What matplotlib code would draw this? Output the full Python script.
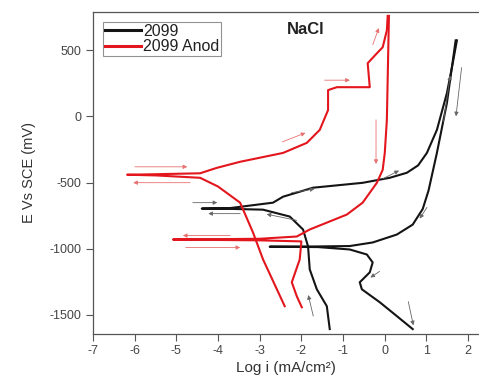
import numpy as np
import matplotlib.pyplot as plt

plt.rcParams['font.family'] = ['Liberation Sans', 'DejaVu Sans']
plt.rcParams['axes.unicode_minus'] = False

# 2099 bare alloy: forward scan (cathodic -> anodic) and reverse scan
bare_fwd_logi = [-1.32, -1.39, -1.63, -1.80, -1.84, -1.96, -2.28, -2.92, -3.71, -4.39,
                 -3.71, -2.68, -2.44, -1.72, -0.53, 0.12, 0.53, 0.80, 1.01, 1.25,
                 1.49, 1.63, 1.73]
bare_fwd_E = [-1608, -1435, -1307, -1156, -983, -855, -757, -705, -699, -697,
              -693, -652, -607, -539, -502, -464, -426, -370, -276, -102,
              176, 402, 575]
bare_rev_logi = [1.70, 1.49, 1.25, 1.05, 0.91, 0.67, 0.29, -0.29, -0.84, -1.6, -2.76,
                 -1.6, -0.84, -0.43, -0.29, -0.36, -0.60, -0.55, -0.12, 0.29, 0.67]
bare_rev_E = [575, 101, -276, -560, -700, -818, -893, -953, -980, -983, -985,
              -988, -1006, -1044, -1104, -1179, -1254, -1307, -1405, -1510, -1608]

# 2099 anodised: forward scan and reverse scan
anod_fwd_logi = [-2.40, -2.92, -3.16, -3.47, -4.0, -4.43, -5.5, -6.18, -5.5, -4.43,
                 -4.03, -3.47, -2.44, -1.87, -1.56, -1.36, -1.36, -1.15, -0.36, -0.41,
                 -0.19, -0.05, 0.05, 0.07]
anod_fwd_E = [-1435, -1081, -878, -652, -530, -464, -446, -441, -437, -430,
              -389, -343, -276, -200, -102, 48, 199, 221, 221, 402,
              477, 523, 651, 760]
anod_rev_logi = [0.10, 0.05, 0.0, -0.05, -0.19, -0.53, -0.91, -1.80, -2.11, -3.0,
                 -5.08, -3.0, -2.0, -2.04, -2.23, -2.11, -1.99]
anod_rev_E = [760, -27, -276, -404, -502, -652, -742, -855, -908, -925,
              -931, -937, -945, -1081, -1254, -1360, -1443]

BLACK = '#141414'
RED = '#e3161d'

fig = plt.figure(figsize=(4.79, 3.85), dpi=100)
ax = fig.add_axes([0.194, 0.1325, 0.806, 0.8365])

ax.plot(bare_fwd_logi, bare_fwd_E, color=BLACK, lw=1.5, label='2099')
ax.plot(bare_rev_logi, bare_rev_E, color=BLACK, lw=1.5)
ax.plot(anod_fwd_logi, anod_fwd_E, color=RED, lw=1.5, label='2099 Anod')
ax.plot(anod_rev_logi, anod_rev_E, color=RED, lw=1.5)

# thin guide arrows showing scan direction
red_arrows = [(-6.06, -381, -4.67, -381), (-4.60, -501, -6.10, -501),
              (-3.64, -901, -4.91, -901), (-4.84, -991, -3.40, -991),
              (-2.52, -200, -1.84, -117), (-1.51, 274, -0.77, 274),
              (-0.21, -5, -0.21, -381), (-0.31, 523, -0.12, 688)]
black_arrows = [(-4.67, -652, -3.95, -652), (-3.40, -735, -4.30, -735),
                (-2.30, -580, -1.62, -545), (-2.05, -790, -2.90, -735),
                (-0.10, -480, 0.40, -400), (1.40, -60, 1.58, 330),
                (1.85, 390, 1.70, -20), (1.05, -670, 0.80, -790),
                (-0.07, -1160, -0.40, -1230), (0.55, -1380, 0.70, -1600),
                (-1.70, -1530, -1.85, -1330)]
for x0, y0, x1, y1 in red_arrows:
    ax.annotate('', xy=(x1, y1), xytext=(x0, y0),
                arrowprops=dict(arrowstyle='-|>', color='#e87070', lw=0.6,
                                mutation_scale=6))
for x0, y0, x1, y1 in black_arrows:
    ax.annotate('', xy=(x1, y1), xytext=(x0, y0),
                arrowprops=dict(arrowstyle='-|>', color='#666666', lw=0.6,
                                mutation_scale=6))

ax.set_xlim(-7, 2.26)
ax.set_ylim(-1645, 790)
ax.set_xticks(np.arange(-7, 3, 1))
ax.set_yticks([-1500, -1000, -500, 0, 500])
ax.tick_params(direction='out', length=5, width=0.8, labelsize=9, pad=3,
               labelcolor='#444444', colors='#555555')
for s in ['left', 'bottom', 'top']:
    ax.spines[s].set_color('#555555')
    ax.spines[s].set_linewidth(0.9)
ax.spines['right'].set_visible(False)

ax.set_xlabel('Log i (mA/cm²)', fontsize=11, color='#333333', labelpad=3)
ax.set_ylabel('E Vs SCE (mV)', fontsize=10.5, color='#333333', labelpad=10)

ax.text(0.552, 0.944, 'NaCl', transform=ax.transAxes, fontsize=12,
        fontweight='bold', color='#222222', ha='center', va='center')

leg = ax.legend(loc='upper left', bbox_to_anchor=(0.026, 0.969), fontsize=11.5,
                frameon=True, fancybox=False, handlelength=2.3, handletextpad=0.1,
                borderpad=0.1, labelspacing=0.05, borderaxespad=0.0)
leg.get_frame().set_edgecolor('#777777')
leg.get_frame().set_linewidth(0.8)
for line in leg.get_lines():
    line.set_linewidth(2.2)
for t in leg.get_texts():
    t.set_color('#222222')

fig.savefig('out.png', dpi=100)
